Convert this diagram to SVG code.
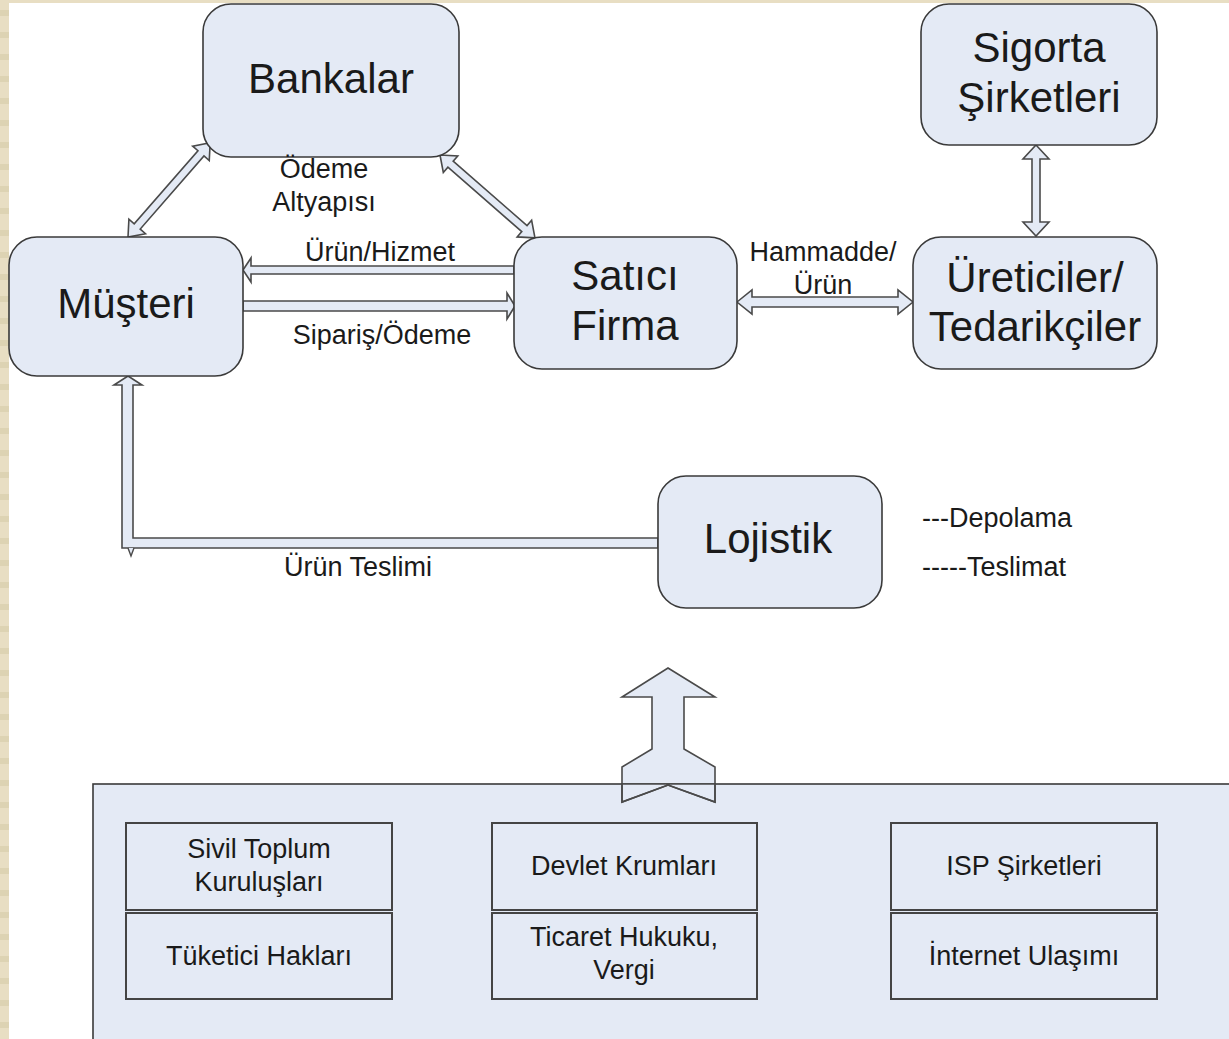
<svg xmlns="http://www.w3.org/2000/svg" width="1229" height="1039" viewBox="0 0 1229 1039">
<defs>
<pattern id="stripes" x="0" y="0" width="10" height="22" patternUnits="userSpaceOnUse">
<rect width="10" height="22" fill="#E8DEC3"/>
<rect y="10" width="10" height="6" fill="#DDD3B3"/>
</pattern>
<style>
.node{fill:#E4EAF5;stroke:#3a3a3a;stroke-width:1.6}
.box{fill:#E4EAF5;stroke:#444;stroke-width:2}
.arr{fill:#E4EAF5;stroke:#4a4a4a;stroke-width:1.6;stroke-linejoin:miter}
.big{font-family:"Liberation Sans",Arial,sans-serif;font-size:42px;fill:#1a1a1a;text-anchor:middle}
.lbl{font-family:"Liberation Sans",Arial,sans-serif;font-size:27px;fill:#1a1a1a;text-anchor:middle}
.lft{text-anchor:start}
</style>
</defs>
<rect x="0" y="0" width="1229" height="1039" fill="#ffffff"/>
<rect x="0" y="0" width="9" height="1039" fill="url(#stripes)"/>
<rect x="0" y="0" width="1229" height="3" fill="#E8DEC3"/>

<g id="connectors">
<!-- Bankalar - Müşteri -->
<polygon class="arr" transform="translate(128,237) rotate(-48.9)" points="0,0 14,-11 14,-4 111,-4 111,-11 125,0 111,11 111,4 14,4 14,11"/>
<!-- Bankalar - Satıcı -->
<polygon class="arr" transform="translate(440,155) rotate(41.1)" points="0,0 14,-11 14,-4 112,-4 112,-11 126,0 112,11 112,4 14,4 14,11"/>
<!-- Sigorta - Üreticiler -->
<polygon class="arr" transform="translate(1036,145) rotate(90)" points="0,0 14,-13 14,-4 77,-4 77,-13 91,0 77,13 77,4 14,4 14,13"/>
<!-- Hammadde -->
<polygon class="arr" transform="translate(737,302)" points="0,0 15,-12 15,-5 161,-5 161,-12 176,0 161,12 161,5 15,5 15,12"/>
<!-- Ürün/Hizmet -->
<polygon class="arr" points="243,270 251,258 251,266 514,266 514,274 251,274 251,282"/>
<!-- Sipariş/Ödeme -->
<polygon class="arr" points="243,301 507,301 507,293 515,306 507,319 507,311 243,311"/>
<!-- Lojistik - Müşteri -->
<polygon class="arr" points="128,376 142,385 133,385 133,538 658,538 658,548 122,548 122,385 114,385"/>
<polyline points="128,548 131,556 134,548" fill="#E4EAF5" stroke="#4a4a4a" stroke-width="1.4"/>
<!-- big arrow -->
<polygon class="arr" points="668,668 715,697 684,697 684,749 715,767 715,802 668,785 622,802 622,767 652,749 652,697 622,697"/>
</g>

<g id="bankalar">
<rect class="node" x="203" y="4" width="256" height="153" rx="28"/>
<text class="big" x="331" y="93">Bankalar</text>
</g>
<g id="sigorta">
<rect class="node" x="921" y="4" width="236" height="141" rx="28"/>
<text class="big" x="1039" y="62">Sigorta</text>
<text class="big" x="1039" y="112">Şirketleri</text>
</g>
<g id="musteri">
<rect class="node" x="9" y="237" width="234" height="139" rx="28"/>
<text class="big" x="126" y="318">Müşteri</text>
</g>
<g id="satici">
<rect class="node" x="514" y="237" width="223" height="132" rx="28"/>
<text class="big" x="625" y="290">Satıcı</text>
<text class="big" x="625" y="340">Firma</text>
</g>
<g id="ureticiler">
<rect class="node" x="913" y="237" width="244" height="132" rx="28"/>
<text class="big" x="1035" y="292">Üreticiler/</text>
<text class="big" x="1035" y="341">Tedarikçiler</text>
</g>
<g id="lojistik">
<rect class="node" x="658" y="476" width="224" height="132" rx="28"/>
<text class="big" x="768" y="553">Lojistik</text>
</g>

<g id="labels">
<text class="lbl" x="324" y="178">Ödeme</text>
<text class="lbl" x="324" y="211">Altyapısı</text>
<text class="lbl" x="380" y="261">Ürün/Hizmet</text>
<text class="lbl" x="382" y="344">Sipariş/Ödeme</text>
<text class="lbl" x="823" y="261">Hammadde/</text>
<text class="lbl" x="823" y="294">Ürün</text>
<text class="lbl" x="358" y="576">Ürün Teslimi</text>
<text class="lbl lft" x="922" y="527">---Depolama</text>
<text class="lbl lft" x="922" y="576">-----Teslimat</text>
</g>

<g id="panel">
<rect class="node" x="93" y="784" width="1150" height="270"/>
</g>
<polygon class="arr" points="622,784 622,802 668,785 715,802 715,784" stroke="none"/>
<polyline points="622,784 622,802 668,785 715,802 715,784" fill="none" stroke="#4a4a4a" stroke-width="1.6"/>

<g id="sivil">
<rect class="box" x="126" y="823" width="266" height="87"/>
<text class="lbl" x="259" y="858">Sivil Toplum</text>
<text class="lbl" x="259" y="891">Kuruluşları</text>
</g>
<g id="tuketici">
<rect class="box" x="126" y="913" width="266" height="86"/>
<text class="lbl" x="259" y="965">Tüketici Hakları</text>
</g>
<g id="devlet">
<rect class="box" x="492" y="823" width="265" height="87"/>
<text class="lbl" x="624" y="875">Devlet Krumları</text>
</g>
<g id="ticaret">
<rect class="box" x="492" y="913" width="265" height="86"/>
<text class="lbl" x="624" y="946">Ticaret Hukuku,</text>
<text class="lbl" x="624" y="979">Vergi</text>
</g>
<g id="isp">
<rect class="box" x="891" y="823" width="266" height="87"/>
<text class="lbl" x="1024" y="875">ISP Şirketleri</text>
</g>
<g id="internet">
<rect class="box" x="891" y="913" width="266" height="86"/>
<text class="lbl" x="1024" y="965">İnternet Ulaşımı</text>
</g>
</svg>
